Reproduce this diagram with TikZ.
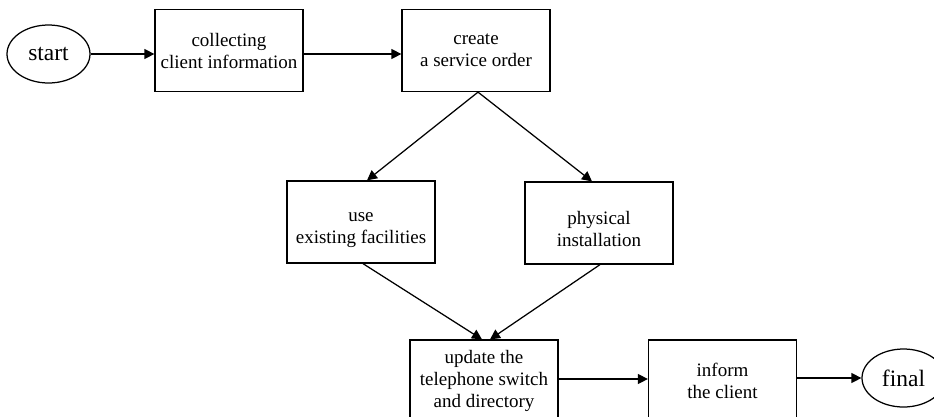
\documentclass[tikz,border=0pt]{standalone}
\usepackage{fontspec}
\setmainfont{Liberation Serif}
\usetikzlibrary{shapes.geometric,arrows.meta,calc}
\begin{document}
\begin{tikzpicture}[x=1pt,y=-1pt,
  line width=1.25pt,
  stepbox/.style={draw, rectangle, minimum width=148pt, minimum height=82pt,
    inner sep=0pt, align=center, font=\fontsize{19}{22}\selectfont},
  terminal/.style={draw, ellipse, minimum width=83pt, minimum height=58pt,
    inner sep=0pt, font=\fontsize{23.5}{26}\selectfont},
  flow/.style={-{Triangle[length=10pt,width=10pt]}}]
\useasboundingbox (0,0) rectangle (934,416);

% nodes of the process
\node[terminal] (start) at (48.5,54) {start};
\node[stepbox] (collect) at (229,50.5) {collecting\\client information};
\node[stepbox] (create) at (476,50.5) {create\\a service order};
\node[stepbox] (use) at (361,222) {\rule{0pt}{26pt}use\\existing facilities};
\node[stepbox] (phys) at (599,223) {\rule{0pt}{26pt}physical\\installation};
\node[stepbox] (update) at (484,381) {update the\\telephone switch\\and directory};
\node[stepbox] (inform) at (722.5,381) {inform\\the client};
\node[terminal] (final) at (903.5,378) {final};

% connectors
\draw[flow] (start.east) -- (start.east -| collect.west);
\draw[flow] ($(collect.east)+(0,3.5)$) -- ($(create.west)+(0,3.5)$);
\draw[flow] ($(create.south)+(2,0)$) -- ($(use.north)+(6,0)$);
\draw[flow] ($(create.south)+(2,0)$) -- ($(phys.north)+(-7,0)$);
\draw[flow] ($(use.south)+(2,0)$) -- ($(update.north)+(-2,0)$);
\draw[flow] ($(phys.south)+(1,0)$) -- ($(update.north)+(6,0)$);
\draw[flow] ($(update.east)+(0,-2)$) -- ($(inform.west)+(0,-2)$);
\draw[flow] ($(inform.east)+(0,-3)$) -- (final.west);
\end{tikzpicture}
\end{document}
